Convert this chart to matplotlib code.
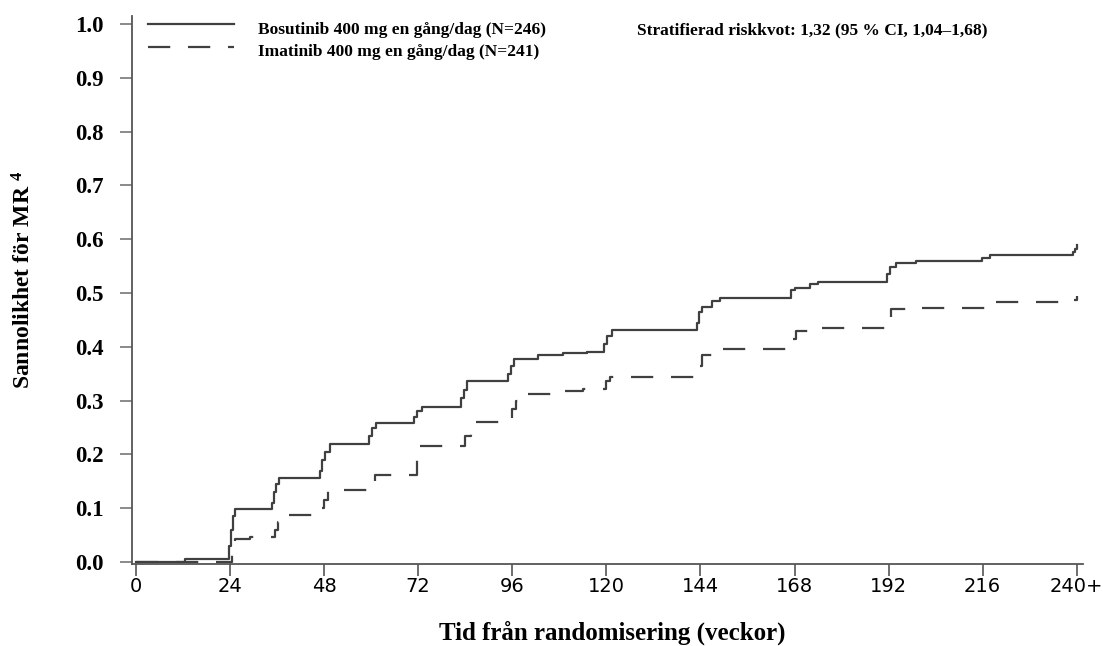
import matplotlib
matplotlib.use("Agg")
import matplotlib.pyplot as plt

plt.rcParams["mathtext.fontset"] = "custom"
plt.rcParams["mathtext.rm"] = "Liberation Serif:bold"
plt.rcParams["mathtext.bf"] = "Liberation Serif:bold"
plt.rcParams["mathtext.it"] = "Liberation Serif:bold"

# Kaplan-Meier step data (weeks, cumulative probability of MR4)
bos_weeks = [0, 12.5, 23.7, 24.2, 24.7, 25.3,
             34.8, 35.3, 35.8, 36.5,
             47.0, 47.5, 48.2, 49.5,
             59.5, 60.2, 61.2,
             71.0, 71.8, 73.0,
             83.0, 83.6, 84.5,
             95.0, 95.6, 96.5, 102.5, 109.0, 115.0,
             119.5, 120.2, 121.5,
             143.0, 143.6, 144.3, 147.0, 149.0,
             167.0, 168.0, 172.0, 174.0,
             191.7, 192.3, 194.0, 199.0,
             215.7, 217.8,
             239.0, 239.6, 240.0]
bos_prob = [0.0, 0.006, 0.03, 0.06, 0.085, 0.098,
            0.11, 0.13, 0.145, 0.157,
            0.17, 0.19, 0.205, 0.219,
            0.235, 0.25, 0.259,
            0.27, 0.28, 0.289,
            0.305, 0.32, 0.337,
            0.35, 0.365, 0.378, 0.384, 0.388, 0.39,
            0.405, 0.42, 0.432,
            0.445, 0.465, 0.475, 0.485, 0.49,
            0.505, 0.51, 0.516, 0.52,
            0.535, 0.549, 0.555, 0.56,
            0.566, 0.571,
            0.576, 0.582, 0.589]

ima_weeks = [0, 24.5, 25.3, 29.0,
             35.5, 36.3, 37.5,
             47.5, 48.0, 49.0,
             60.0, 61.0,
             71.7, 72.5,
             84.0, 85.5,
             96.0, 97.0, 98.5, 108.5, 114.0,
             120.0, 121.0,
             143.7, 144.5, 148.0, 149.0,
             167.5, 168.5, 172.6,
             191.7, 192.5, 198.0, 216.5,
             239.0, 240.0]
ima_prob = [0.0, 0.02, 0.042, 0.047,
            0.06, 0.075, 0.088,
            0.10, 0.115, 0.133,
            0.145, 0.162,
            0.19, 0.215,
            0.235, 0.26,
            0.285, 0.30, 0.313, 0.318, 0.322,
            0.337, 0.344,
            0.365, 0.385, 0.392, 0.396,
            0.415, 0.43, 0.435,
            0.45, 0.47, 0.473, 0.483,
            0.488, 0.495]

x_ticks = [0, 24, 48, 72, 96, 120, 144, 168, 192, 216, 240]
x_labels = ["0", "24", "48", "72", "96", "120", "144", "168", "192", "216", "240+"]
y_ticks = [0.0, 0.1, 0.2, 0.3, 0.4, 0.5, 0.6, 0.7, 0.8, 0.9, 1.0]

legend_labels = ["Bosutinib 400 mg en gång/dag (N=246)",
                 "Imatinib 400 mg en gång/dag (N=241)"]
hr_text = "Stratifierad riskkvot: 1,32 (95 % CI, 1,04–1,68)"

serif = "Liberation Serif"
line_col = "#404040"
dash = (0, (10, 8))

fig = plt.figure(figsize=(11.03, 6.46), dpi=100)
ax = fig.add_axes([0.1197, 0.1269, 0.8622, 0.8483])

ax.plot(bos_weeks, bos_prob, drawstyle="steps-post", color=line_col, lw=1.6)
ax.plot(ima_weeks, ima_prob, drawstyle="steps-post", color=line_col, lw=1.6,
        ls=dash)

ax.set_xlim(-1.0, 241.6)
ax.set_ylim(-0.0037, 1.015)

for side in ["top", "right"]:
    ax.spines[side].set_visible(False)
for side in ["left", "bottom"]:
    ax.spines[side].set_color("#555555")
    ax.spines[side].set_linewidth(1.3)

ax.set_xticks(x_ticks)
ax.set_xticklabels(x_labels, fontfamily="DejaVu Sans", fontsize=14)
ax.set_yticks(y_ticks)
ax.set_yticklabels([f"{v:.1f}" for v in y_ticks], fontfamily=serif,
                   fontweight="bold", fontsize=16.5)
ax.tick_params(axis="y", direction="out", length=8.5, width=1.2,
               color="#777777", pad=12)
ax.tick_params(axis="x", direction="out", length=8.5, width=1.2,
               color="#555555", pad=0.5)

# legend drawn by hand at the top left
ax.plot([3, 25], [0.9997, 0.9997], color=line_col, lw=1.6, clip_on=False)
ax.plot([3, 25], [0.957, 0.957], color=line_col, lw=1.6, ls=dash,
        clip_on=False)
fig.text(258 / 1103, 1 - 30 / 646, legend_labels[0], fontfamily=serif,
         fontweight="bold", fontsize=12.5, va="center", ha="left")
fig.text(258 / 1103, 1 - 52 / 646, legend_labels[1], fontfamily=serif,
         fontweight="bold", fontsize=12.5, va="center", ha="left")
fig.text(637 / 1103, 1 - 30 / 646, hr_text, fontfamily=serif,
         fontweight="bold", fontsize=12.5, va="center", ha="left")

fig.text(24 / 1103, 1 - 280 / 646, "Sannolikhet för MR $^4$", rotation=90,
         fontfamily=serif, fontweight="bold", fontsize=17,
         va="center", ha="center")
fig.text(612 / 1103, 1 - 633 / 646, "Tid från randomisering (veckor)",
         fontfamily=serif, fontweight="bold", fontsize=18,
         va="center", ha="center")

fig.savefig("out.png", dpi=100)
